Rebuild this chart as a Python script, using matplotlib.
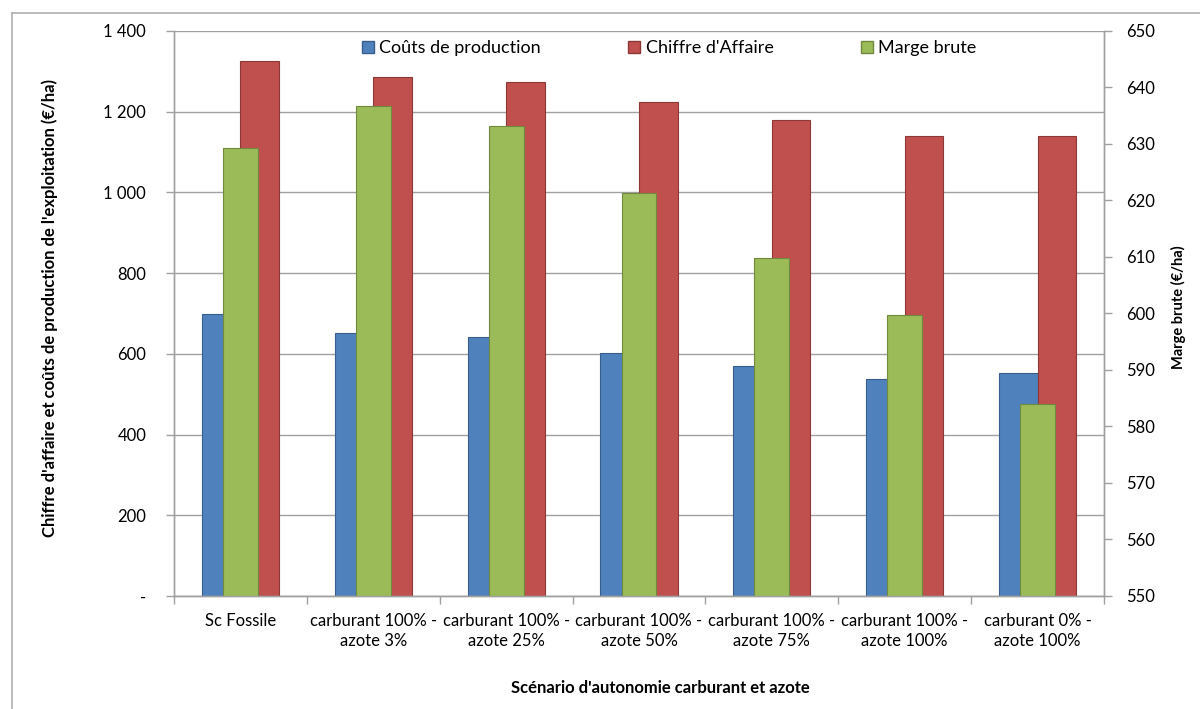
'''
    Costs, turnover and gross margin per scenario of fuel / nitrogen autonomy
    Recreated from an Excel column chart with a secondary axis
'''
import numpy as np
import matplotlib
matplotlib.use('Agg')
import matplotlib.pyplot as plt
from matplotlib.ticker import FuncFormatter, MultipleLocator, FixedLocator
from matplotlib.patches import Patch

# data
scenarios = ['Sc Fossile',
             'carburant 100% -\nazote 3%',
             'carburant 100% -\nazote 25%',
             'carburant 100% -\nazote 50%',
             'carburant 100% -\nazote 75%',
             'carburant 100% -\nazote 100%',
             'carburant 0% -\nazote 100%']
couts_production = [698, 651, 641, 603, 570, 538, 553]
chiffre_affaire = [1326, 1285, 1273, 1223, 1179, 1139, 1139]
marge_brute = [629.3, 636.8, 633.1, 621.3, 609.9, 599.7, 584.0]

BLUE, BLUE_EDGE = '#4f81bd', '#385d8a'
RED, RED_EDGE = '#c0504d', '#8c3836'
GREEN, GREEN_EDGE = '#9bbb59', '#71893f'
AXIS_GREY = '#a0a0a0'

plt.rcParams['font.family'] = ['Lato', 'DejaVu Sans']


def thousands(val, pos):
    # excel style: space as thousands separator, dash for zero
    if val == 0:
        return '-'
    return '{:,.0f}'.format(val).replace(',', ' ')


def generate_fig() -> None:
    fig = plt.figure(figsize=(12, 7.09), dpi=100)

    # outer chart frame (top and left edges visible)
    fig.add_artist(plt.Line2D([12 / 1200, 12 / 1200], [1 - 13 / 709, 0], color='#b0b0b0', lw=1.2))
    fig.add_artist(plt.Line2D([12 / 1200, 1], [1 - 13 / 709, 1 - 13 / 709], color='#b0b0b0', lw=1.2))

    ax1 = fig.add_axes([0.145, 0.1594, 0.775, 0.7969])
    ax2 = ax1.twinx()

    x = np.arange(len(scenarios))
    w = 0.29

    # primary axis: costs and turnover
    ax1.bar(x - w / 2, couts_production, w, color=BLUE, edgecolor=BLUE_EDGE, lw=0.8, zorder=2)
    ax1.bar(x + w / 2, chiffre_affaire, w, color=RED, edgecolor=RED_EDGE, lw=0.8, zorder=2)

    # secondary axis: gross margin, drawn over the others
    ax2.bar(x, marge_brute, 0.263, color=GREEN, edgecolor=GREEN_EDGE, lw=0.8, zorder=2)

    # left axis
    ax1.set_xlim(-0.5, len(scenarios) - 0.5)
    ax1.set_ylim(0, 1400)
    ax1.yaxis.set_major_locator(MultipleLocator(200))
    ax1.yaxis.set_major_formatter(FuncFormatter(thousands))
    ax1.grid(axis='y', color=AXIS_GREY, lw=1.0, zorder=0)
    ax1.set_axisbelow(True)

    # right axis
    ax2.set_ylim(550, 650)
    ax2.yaxis.set_major_locator(MultipleLocator(10))

    # x ticks: labels at centres, tick marks at category boundaries
    ax1.set_xticks(x)
    ax1.set_xticklabels(scenarios, fontsize=12, linespacing=1.3)
    ax1.xaxis.set_minor_locator(FixedLocator(np.arange(-0.5, len(scenarios), 1)))
    ax1.tick_params(axis='x', which='major', length=0, pad=12)
    ax1.tick_params(axis='x', which='minor', length=6, color=AXIS_GREY, width=1)
    ax1.tick_params(axis='y', length=6, color=AXIS_GREY, width=1, pad=14, labelsize=12)
    ax2.tick_params(axis='y', length=6, color=AXIS_GREY, width=1, pad=10, labelsize=12)

    for ax in (ax1, ax2):
        ax.spines['top'].set_visible(False)
        for side in ('left', 'right', 'bottom'):
            ax.spines[side].set_color(AXIS_GREY)
            ax.spines[side].set_linewidth(1.0)

    # axis titles
    fig.text(50 / 1200, 1 - 308 / 709, "Chiffre d'affaire et coûts de production de l'exploitation (€/ha)",
             rotation=90, ha='center', va='center', fontsize=12, weight='bold')
    fig.text(1178 / 1200, 1 - 307 / 709, 'Marge brute (€/ha)',
             rotation=90, ha='center', va='center', fontsize=10.5, weight='bold')
    fig.text(660 / 1200, 1 - 688 / 709, "Scénario d'autonomie carburant et azote",
             ha='center', va='center', fontsize=12, weight='bold')

    # legend across the top
    handles = [Patch(facecolor=BLUE, edgecolor=BLUE_EDGE),
               Patch(facecolor=RED, edgecolor=RED_EDGE),
               Patch(facecolor=GREEN, edgecolor=GREEN_EDGE)]
    labels = ['Coûts de production', "Chiffre d'Affaire", 'Marge brute']
    fig.legend(handles, labels, loc='upper left', bbox_to_anchor=(362 / 1200, 1 - 40 / 709),
               ncol=3, frameon=False, fontsize=13, handlelength=0.65, handleheight=0.65,
               handletextpad=0.3, columnspacing=4.85, borderpad=0, borderaxespad=0)

    fig.savefig('out.png', dpi=100)


generate_fig()
